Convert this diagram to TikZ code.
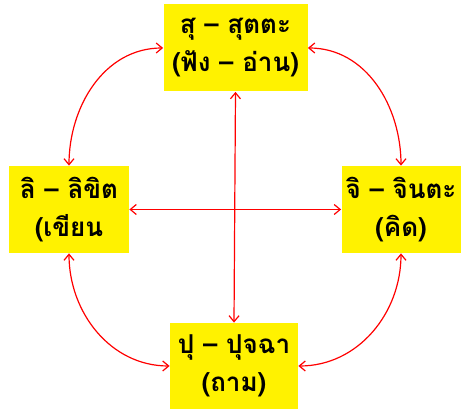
\documentclass[tikz,border=0pt]{standalone}
\usepackage{fontspec}
\newfontfamily\thaifont[Script=Thai]{Loma}
\usetikzlibrary{arrows.meta}
\begin{document}
\begin{tikzpicture}[x=0.5pt,y=-0.5pt,
  box/.style={fill=yellow,draw=none,inner sep=0pt,align=center,font=\thaifont\bfseries\fontsize{13}{19}\selectfont},
  link/.style={draw=red,line width=0.6pt,{Straight Barb[length=3pt,width=5pt]}-{Straight Barb[length=3pt,width=5pt]}}]
\useasboundingbox (0,0) rectangle (461,410);
\node[box,minimum width=72pt,minimum height=43.5pt] (su) at (235.5,48) {สุ – สุตตะ\\(ฟัง – อ่าน)};
\node[box,minimum width=60pt,minimum height=43.5pt] (li) at (69,209.5) {ลิ – ลิขิต\\(เขียน};
\node[box,minimum width=59.5pt,minimum height=43.5pt] (ji) at (401,209.5) {จิ – จินตะ\\(คิด)};
\node[box,minimum width=64pt,minimum height=43pt] (pu) at (234,366) {ปุ – ปุจฉา\\(ถาม)};
\draw[link] (su.south) -- (pu.north);
\draw[link] (li.east) -- (ji.west);
\draw[link] (su.west) to[out=180,in=90] (li.north);
\draw[link] (su.east) to[out=0,in=90] (ji.north);
\draw[link] (li.south) to[out=-90,in=180] (pu.west);
\draw[link] (ji.south) to[out=-90,in=0] (pu.east);
\end{tikzpicture}
\end{document}
